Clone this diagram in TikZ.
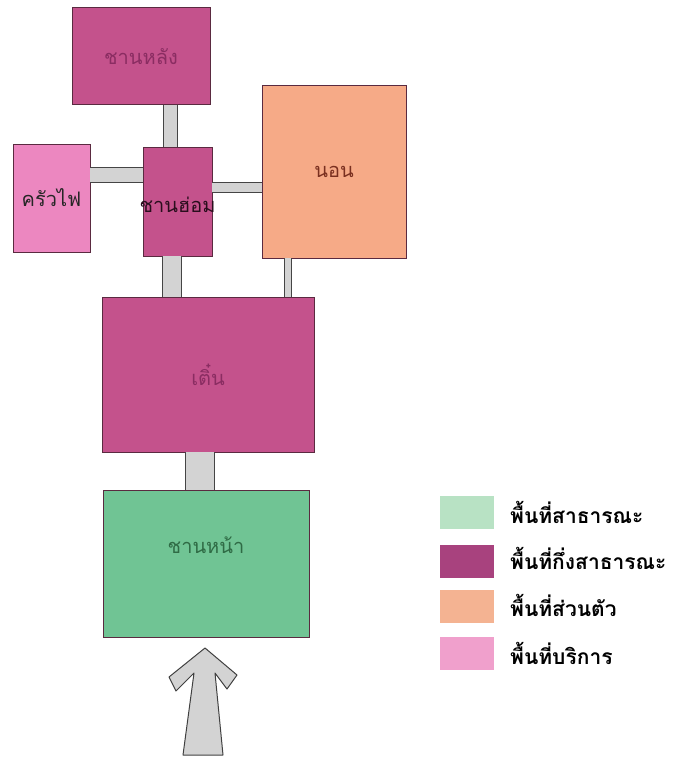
\documentclass[tikz,border=0pt]{standalone}
\usepackage{fontspec}
\newfontfamily\thai[Script=Thai]{Loma}
\definecolor{roomline}{HTML}{5A2A40}
\definecolor{magfill}{HTML}{C4528C}
\definecolor{magtext}{HTML}{8A2D62}
\definecolor{pinkfill}{HTML}{EC87C0}
\definecolor{salfill}{HTML}{F6AA87}
\definecolor{saltext}{HTML}{7A3020}
\definecolor{grnfill}{HTML}{70C494}
\definecolor{grntext}{HTML}{2F6B45}
\definecolor{barfill}{HTML}{D3D3D3}
\definecolor{barline}{HTML}{454545}
\definecolor{lgreen}{HTML}{B8E2C4}
\definecolor{lmag}{HTML}{A8427E}
\definecolor{lsal}{HTML}{F4B392}
\definecolor{lpink}{HTML}{F0A0CC}
\begin{document}
\begin{tikzpicture}[x=1pt,y=-1pt,
 room/.style={draw=roomline, line width=1pt, inner sep=0pt, outer sep=0pt, font=\thai\fontsize{20}{20}\selectfont},
 bar/.style={draw=barline, line width=1pt, double=barfill, double distance=#1},
 legbox/.style={inner sep=0pt, minimum width=54pt, minimum height=33pt},
 legtext/.style={anchor=west, inner sep=0pt, font=\thai\bfseries\fontsize{21}{21}\selectfont}]
\useasboundingbox (0,0) rectangle (676,757);
% rooms
\node[room, fill=magfill, text=magtext, minimum width=138pt, minimum height=97pt] (back) at (141,56.5) {ชานหลัง};
\node[room, fill=pinkfill, text=black!85, minimum width=77pt, minimum height=108pt] (krua) at (51.5,198) {ครัวไฟ};
\node[room, fill=magfill, minimum width=69pt, minimum height=109pt,
  label={[anchor=center, inner sep=0pt, yshift=-3pt, text=black!70!magtext, font=\thai\fontsize{20}{20}\selectfont]center:ชานฮ่อม}] (hom) at (177.5,201.5) {};
\node[room, fill=salfill, text=saltext, minimum width=144pt, minimum height=172pt] (non) at (334,172) {นอน};
\node[room, fill=magfill, text=magtext, minimum width=212pt, minimum height=155pt] (toen) at (208,374.5) {เติ๋น};
\node[room, fill=grnfill, minimum width=206pt, minimum height=147pt,
  label={[anchor=center, yshift=-55pt, text=grntext, font=\thai\fontsize{20}{20}\selectfont]north:ชานหน้า}] (front) at (206,563.5) {};
% connecting bars
\coordinate (c1) at (170.5,0);
\coordinate (c2) at (0,175);
\coordinate (c3) at (0,187.5);
\coordinate (c4) at (287.5,0);
\coordinate (c5) at (172,0);
\coordinate (c6) at (200,0);
\draw[bar=13pt] (back.south -| c1) -- (hom.north -| c1);
\draw[bar=14pt] (krua.east |- c2) -- (hom.west |- c2);
\draw[bar=9pt] (hom.east |- c3) -- (non.west |- c3);
\draw[bar=6pt] (non.south -| c4) -- (toen.north -| c4);
\draw[bar=18pt] (hom.south -| c5) -- (toen.north -| c5);
\draw[bar=28pt] (toen.south -| c6) -- (front.north -| c6);
% entrance arrow
\draw[fill=barfill, draw=black!75, line width=1pt, line join=round]
  (205,648) -- (237,675) -- (227,689) -- (215,673) -- (223,755) -- (183,755)
  -- (194,673) -- (176,691) -- (169,677) -- cycle;
% legend
\node[legbox, fill=lgreen] (lg1) at (467,512.5) {};
\node[legbox, fill=lmag] (lg2) at (467,561.5) {};
\node[legbox, fill=lsal] (lg3) at (467,606) {};
\node[legbox, fill=lpink] (lg4) at (467,653) {};
\node[legtext] (lt1) at (510,512) {พื้นที่สาธารณะ};
\node[legtext] (lt2) at (510,558) {พื้นที่กึ่งสาธารณะ};
\node[legtext] (lt3) at (510,605) {พื้นที่ส่วนตัว};
\node[legtext] (lt4) at (510,653) {พื้นที่บริการ};
\end{tikzpicture}
\end{document}
